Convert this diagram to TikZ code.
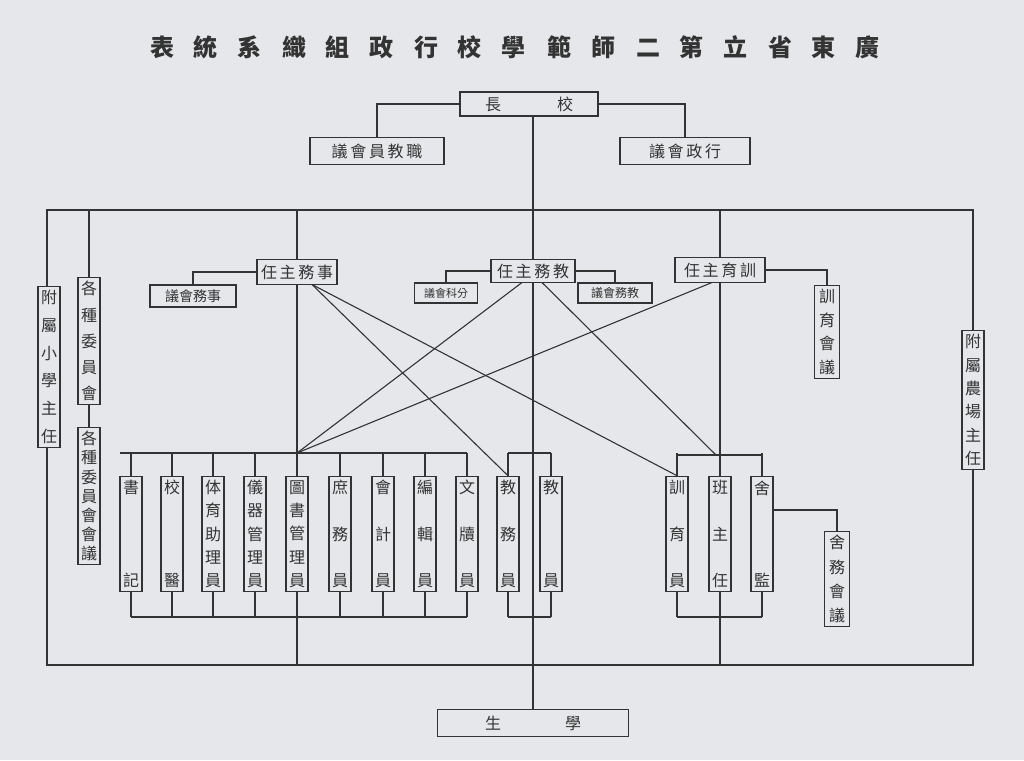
\documentclass[tikz,border=0pt]{standalone}
\usepackage{fontspec}
\setmainfont{Noto Sans CJK TC}
\newfontfamily\cjk{Noto Sans CJK TC}
\definecolor{paper}{HTML}{E6E7EA}
\definecolor{ink}{HTML}{333333}
\newcommand{\vtx}[2]{\parbox[c][#1][s]{18pt}{\centering\fontsize{16}{17}\selectfont #2}}
\begin{document}
\begin{tikzpicture}[x=1pt,y=-1pt,
  bx/.style={draw=ink,line width=1.3pt,fill=paper,inner xsep=0pt,inner ysep=4pt,text=ink,font=\cjk\fontsize{16}{18}\selectfont},
  ln/.style={draw=ink,line width=1.1pt}]
\fill[paper] (0,0) rectangle (1024,760);
\useasboundingbox (0,0) rectangle (1024,760);
\node[text=ink,font=\cjk\bfseries\fontsize{24}{24}\selectfont] (title) at (515,47) {表\hspace{20pt}統\hspace{20pt}系\hspace{20pt}織\hspace{20pt}組\hspace{20pt}政\hspace{20pt}行\hspace{20pt}校\hspace{20pt}學\hspace{22pt}範\hspace{20pt}師\hspace{20pt}二\hspace{20pt}第\hspace{20pt}立\hspace{20pt}省\hspace{20pt}東\hspace{20pt}廣};
% main line
\coordinate (mt) at (533,116);
\draw[ln] (mt) -- (533,710);
% top
\node[bx,minimum width=138,minimum height=24] (xz) at (529,104) {長\hspace{3.5em}校};
\node[bx,minimum width=134,minimum height=27] (zj) at (377,151) {議\,會\,員\,教\,職};
\node[bx,minimum width=130,minimum height=27] (xzh) at (685,151) {議\,會\,政\,行};
\draw[ln] (xz.west) -| (zj.north);
\draw[ln] (xz.east) -| (xzh.north);
% big frame
\coordinate (fTL) at (47,210); \coordinate (fBR) at (973,665);
\draw[ln] (fTL) rectangle (fBR);
\node[bx,minimum width=191,minimum height=27] (xs) at (533,723) {生\hspace{4em}學};
% side boxes
\node[bx,minimum width=22] (fx) at (49,367) {\vtx{152pt}{附\vfill 屬\vfill 小\vfill 學\vfill 主\vfill 任}};
\node[bx,minimum width=22] (gw) at (89,341) {\vtx{118pt}{各\vfill 種\vfill 委\vfill 員\vfill 會}};
\node[bx,minimum width=22] (gwh) at (89,496) {\vtx{128pt}{各\vfill 種\vfill 委\vfill 員\vfill 會\vfill 會\vfill 議}};
\node[bx,minimum width=22] (fn) at (973,400) {\vtx{130pt}{附\vfill 屬\vfill 農\vfill 場\vfill 主\vfill 任}};
\draw[ln] (89,210) -- (gw.north); \draw[ln] (gw.south) -- (gwh.north);
% heads
\node[bx,minimum width=80,minimum height=25] (sw) at (297,272) {任\,主\,務\,事};
\node[bx,minimum width=86,minimum height=22,font=\cjk\fontsize{14}{16}\selectfont] (swh) at (193,296) {議會務事};
\node[bx,minimum width=84,minimum height=23] (jw) at (533,271) {任\,主\,務\,教};
\node[bx,minimum width=63,minimum height=20,inner ysep=2pt,font=\cjk\fontsize{11}{12}\selectfont] (fk) at (446,293) {議會科分};
\node[bx,minimum width=74,minimum height=20,inner ysep=2pt,font=\cjk\fontsize{12}{13}\selectfont] (jwh) at (615,293) {議會務教};
\node[bx,minimum width=90,minimum height=25] (xy) at (720,270) {任\,主\,育\,訓};
\node[bx,minimum width=25] (xyh) at (827,332) {\vtx{84pt}{訓\vfill 育\vfill 會\vfill 議}};
\draw[ln] (sw.west) -| (swh.north);
\draw[ln] (jw.west) -| (fk.north);
\draw[ln] (jw.east) -| (jwh.north);
\draw[ln] (xy.east) -| (xyh.north);
\draw[ln] (297,210) -- (sw.north);
\draw[ln] (720,210) -- (xy.north);
% staff
\def\sh{106pt}
\foreach \n/\x/\t in {a/131/{書\vfill 記},b/172/{校\vfill 醫},c/213/{体\vfill 育\vfill 助\vfill 理\vfill 員},d/255/{儀\vfill 器\vfill 管\vfill 理\vfill 員},e/297/{圖\vfill 書\vfill 管\vfill 理\vfill 員},f/340/{庶\vfill 務\vfill 員},g/383/{會\vfill 計\vfill 員},h/425/{編\vfill 輯\vfill 員},i/467/{文\vfill 牘\vfill 員},j/508/{教\vfill 務\vfill 員},k/551/{教\vfill\vfill 員},l/677/{訓\vfill 育\vfill 員},m/720/{班\vfill 主\vfill 任},n/762/{舍\vfill 監}}{
  \node[bx,minimum width=22] (s\n) at (\x,534) {\vtx{\sh}{\t}};
  \draw[ln] (s\n.north) -- (\x,453);
  \draw[ln] (s\n.south) -- (\x,617);
}
\draw[ln] (120,453) -- (467,453); \draw[ln] (131,617) -- (467,617);
\draw[ln] (508,453) -- (551,453); \draw[ln] (508,617) -- (551,617);
\draw[ln] (677,455) -- (762,455); \draw[ln] (677,617) -- (762,617);
\draw[ln] (sw.south) -- (297,453);
\draw[ln] (297,617) -- (297,665);
\draw[ln] (720,617) -- (720,665);
\draw[ln] (xy.south) -- (720,455);
% 舍務會議
\node[bx,minimum width=25] (swy) at (837,579) {\vtx{86pt}{舍\vfill 務\vfill 會\vfill 議}};
\draw[ln] (sn.east |- 0,510) -| (swy.north);
% cross lines
\draw[ln] (312,284.5) -- (sj.north);
\draw[ln] (312,284.5) -- (sl.north);
\draw[ln] (522,282.5) -- (297,453);
\draw[ln] (542,282.5) -- (716,455);
\draw[ln] (712,282.5) -- (297,453);
\end{tikzpicture}
\end{document}
